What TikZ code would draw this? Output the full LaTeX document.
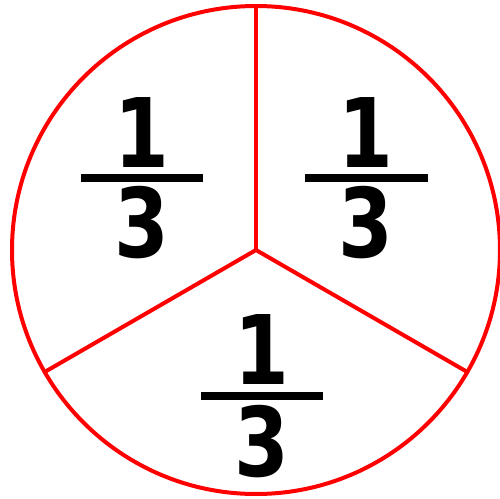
\documentclass[tikz,border=0pt]{standalone}
\usepackage{fontspec}
\usepackage{graphicx}
\newfontfamily\digitfont{DejaVu Sans}
\tikzset{
  pieline/.style={draw=red, line width=2pt},
  digit/.style={inner sep=0pt, outer sep=0pt, font=\digitfont\bfseries\fontsize{48}{48}\selectfont},
  fracbar/.style={draw=black, line width=4pt}
}
\newcommand{\dg}[1]{\scalebox{0.82}[1]{#1}}
\begin{document}
\begin{tikzpicture}[x=0.5pt,y=-0.5pt]
\useasboundingbox (0,0) rectangle (500,499);
\node[pieline, circle, minimum size=244pt, inner sep=0pt, outer sep=0pt] (pie) at (256,250) {};
\coordinate (ctr) at (256,250);
\draw[pieline, line cap=round] (ctr) -- (pie.90);
\draw[pieline, line cap=round] (ctr) -- (pie.210);
\draw[pieline, line cap=round] (ctr) -- (pie.330);
% left
\node[digit] (ln) at (141.5,133) {\dg{1}};
\node[digit] (ld) at (141.5,222.5) {\dg{3}};
\coordinate (lb1) at (81,178); \coordinate (lb2) at (203,178);
\draw[fracbar] (lb1) -- (lb2);
% right
\node[digit] (rn) at (366,133) {\dg{1}};
\node[digit] (rd) at (366,222.5) {\dg{3}};
\coordinate (rb1) at (305,178); \coordinate (rb2) at (428,178);
\draw[fracbar] (rb1) -- (rb2);
% bottom
\node[digit] (bn) at (262,350) {\dg{1}};
\node[digit] (bd) at (262,442) {\dg{3}};
\coordinate (bb1) at (201,396); \coordinate (bb2) at (323,396);
\draw[fracbar] (bb1) -- (bb2);
\end{tikzpicture}
\end{document}
